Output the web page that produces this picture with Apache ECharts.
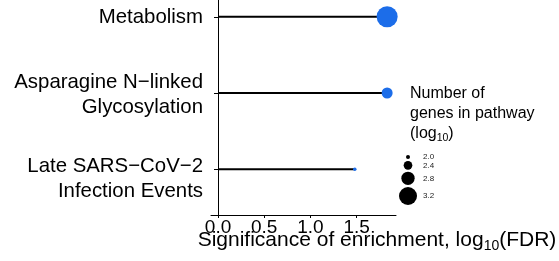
<!DOCTYPE html>
<html lang="en">
  <head>
    <meta charset="UTF-8" />
    <script src="https://cdn.jsdelivr.net/npm/echarts@6.0.0/dist/echarts.min.js"></script>
    <title>Pathway enrichment</title>
    <style>
      html, body { margin: 0; padding: 0; background: #fff; }
    </style>
  </head>
  <body>
    <div id="main" style="width: 559px; height: 261px"></div>
    <script>
      // pathways, top to bottom
      const pathways = [
        "Metabolism",
        "Asparagine N\u2212linked\nGlycosylation",
        "Late SARS\u2212CoV\u22122\nInfection Events",
      ];
      // -log10(FDR)
      const fdrLog = [1.83, 1.83, 1.48];
      // log10(number of genes in pathway)
      const geneLog = [3.46, 2.6, 1.96];
      const xTicks = [0, 0.5, 1.0, 1.5];
      const sizeBreaks = [2.0, 2.4, 2.8, 3.2];

      const FONT = "'Liberation Sans', Arial, Helvetica, sans-serif";
      const BLUE = "#1c6de9";

      function dotSize(v) {
        return Math.max(3, 4 + (v - 2) * 11.67);
      }

      const chartDom = document.getElementById("main");
      const myChart = echarts.init(chartDom);

      // size legend (keys stacked downwards)
      const legendItems = [];
      let ky = 157;
      sizeBreaks.forEach(function (b, i) {
        const d = dotSize(b);
        if (i > 0) ky += (dotSize(sizeBreaks[i - 1]) + d) / 2 + 2;
        legendItems.push({
          type: "circle",
          shape: { cx: 408, cy: ky, r: d / 2 },
          style: { fill: "#000" },
        });
        legendItems.push({
          type: "text",
          x: 423,
          y: ky,
          style: {
            text: b.toFixed(1),
            font: "8px " + FONT,
            fill: "#222",
            verticalAlign: "middle",
          },
        });
      });

      // invisible spacer line above each label, nudging it down as in the original
      const labelRich = {
        s0: { fontSize: 1, lineHeight: 2 },
        s1: { fontSize: 1, lineHeight: 4 },
        s2: { fontSize: 1, lineHeight: 20 },
        n: { fontSize: 20.4, lineHeight: 25 },
      };

      const option = {
        animation: false,
        textStyle: { fontFamily: FONT },
        grid: {
          left: 211,
          right: 163,
          top: -29,
          bottom: 46,
          containLabel: false,
          outerBoundsMode: "none",
        },
        xAxis: {
          type: "value",
          min: -0.076,
          max: 1.926,
          splitLine: { show: false },
          axisLine: { show: true, lineStyle: { color: "#000", width: 1 } },
          axisTick: {
            show: true,
            length: 3,
            customValues: xTicks,
            lineStyle: { color: "#000" },
          },
          axisLabel: {
            customValues: xTicks,
            formatter: function (v) {
              return v.toFixed(1);
            },
            color: "#000",
            fontSize: 19,
            margin: 3.5,
          },
          name: "Significance of enrichment, log{sub|10}(FDR)",
          nameLocation: "middle",
          nameGap: 13,
          nameMoveOverlap: false,
          nameTextStyle: {
            color: "#000",
            fontSize: 21,
            padding: [0, 0, 0, 147],
            rich: {
              sub: {
                fontSize: 14,
                color: "#000",
                verticalAlign: "top",
                padding: [11, 0, 0, 0],
              },
            },
          },
        },
        yAxis: {
          type: "value",
          inverse: true,
          min: 0.4,
          max: 3.6,
          splitLine: { show: false },
          axisLine: { show: true, lineStyle: { color: "#000", width: 1 } },
          axisTick: {
            show: true,
            length: 4,
            customValues: [1, 2, 3],
            lineStyle: { color: "#000" },
          },
          axisLabel: {
            customValues: [1, 2, 3],
            formatter: function (v) {
              const i = Math.round(v) - 1;
              const lines = pathways[i].split("\n").map(function (s) {
                return "{n|" + s + "}";
              });
              return ["{s" + i + "|\u200b}"].concat(lines).join("\n");
            },
            color: "#000",
            fontSize: 20.4,
            margin: 8,
            rich: labelRich,
          },
        },
        graphic: [
          {
            type: "text",
            x: 410,
            y: 84,
            style: {
              text: "Number of\ngenes in pathway\n(log{sub|10})",
              font: "16px " + FONT,
              fill: "#000",
              lineHeight: 20,
              rich: {
                sub: {
                  fontSize: 10.5,
                  fill: "#000",
                  verticalAlign: "top",
                  padding: [9, 0, 0, 0],
                },
              },
            },
          },
        ].concat(legendItems),
        series: [
          {
            type: "custom",
            data: fdrLog.map(function (v, i) {
              return [v, i + 1];
            }),
            renderItem: function (params, api) {
              const y = api.value(1);
              const p0 = api.coord([0, y]);
              const p1 = api.coord([api.value(0), y]);
              return {
                type: "line",
                shape: { x1: p0[0], y1: p0[1], x2: p1[0], y2: p1[1] },
                style: { stroke: "#000", lineWidth: 2 },
              };
            },
            z: 1,
          },
          {
            type: "scatter",
            data: fdrLog.map(function (v, i) {
              return [v, i + 1, geneLog[i]];
            }),
            symbolSize: function (d) {
              return dotSize(d[2]);
            },
            itemStyle: { color: BLUE, opacity: 1 },
            z: 2,
          },
        ],
      };

      myChart.setOption(option);
    </script>
  </body>
</html>
